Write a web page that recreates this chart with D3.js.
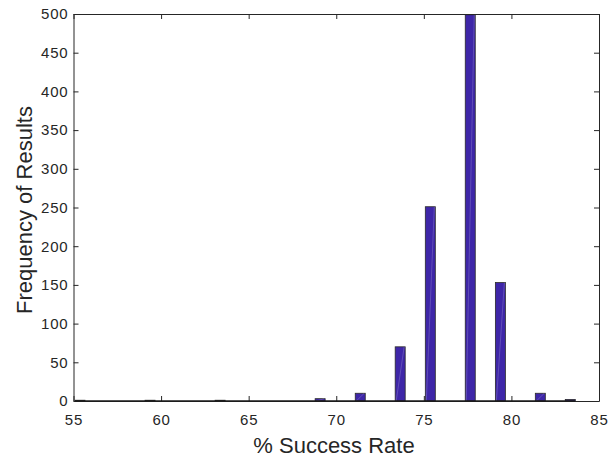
<!DOCTYPE html>
<html>
<head>
<meta charset="utf-8">
<script src="https://cdn.jsdelivr.net/npm/d3@7"></script>
<style>
  html, body { margin: 0; padding: 0; background: #fff; }
  svg { display: block; }
  text { font-family: "Liberation Sans", Arial, Helvetica, sans-serif; fill: #262626; }
</style>
</head>
<body>
<svg id="chart" width="608" height="459"></svg>
<script>
// Histogram bins (centre of each non-empty bin, % success rate) and their counts
const binCenters = [55.37, 59.37, 63.37, 69.08, 71.37, 73.65, 75.37, 77.65, 79.37, 81.65, 83.36];
const binCounts  = [1, 1, 1, 3, 10, 70, 251, 499, 153, 10, 2];
const binWidth = 0.571;

// Axis ticks
const xTicks = [55, 60, 65, 70, 75, 80, 85];
const yTicks = [0, 50, 100, 150, 200, 250, 300, 350, 400, 450, 500];

const xLabel = "% Success Rate";
const yLabel = "Frequency of Results";

const svg = d3.select("#chart");
const plot = { left: 73.5, right: 599, top: 14, bottom: 401 };

const x = d3.scaleLinear().domain([55, 85]).range([plot.left, plot.right]);
const y = d3.scaleLinear().domain([0, 500]).range([plot.bottom, plot.top]);

const axisColor = "#262626";
const tickLen = 5;

const bins = binCenters.map((c, i) => ({ x0: c - binWidth / 2, x1: c + binWidth / 2, n: binCounts[i] }));

// Bars
const barG = svg.append("g");
barG.selectAll("rect")
  .data(bins)
  .join("rect")
  .attr("x", d => x(d.x0))
  .attr("width", d => x(d.x1) - x(d.x0))
  .attr("y", d => y(d.n))
  .attr("height", d => y(0) - y(d.n))
  .attr("fill", "#3e26a8")
  .attr("stroke", "#2a2a2a")
  .attr("stroke-width", 0.8);

// faint seam across each bar face
barG.selectAll("line")
  .data(bins.filter(d => d.n >= 3))
  .join("line")
  .attr("x1", d => x(d.x0) + 1)
  .attr("y1", y(0))
  .attr("x2", d => x(d.x1) - 1)
  .attr("y2", d => y(d.n))
  .attr("stroke", "#ffffff")
  .attr("stroke-opacity", 0.3)
  .attr("stroke-width", 0.6);

// Axes: ticks point inward, mirrored on top and right (box on)
const bottomAxis = d3.axisBottom(x).tickValues(xTicks).tickSizeInner(-tickLen).tickSizeOuter(0).tickPadding(13);
const topAxis = d3.axisTop(x).tickValues(xTicks).tickSizeInner(-tickLen).tickSizeOuter(0).tickFormat("");
const leftAxis = d3.axisLeft(y).tickValues(yTicks).tickSizeInner(-tickLen).tickSizeOuter(0).tickPadding(5);
const rightAxis = d3.axisRight(y).tickValues(yTicks).tickSizeInner(-tickLen).tickSizeOuter(0).tickFormat("");

function styleAxis(g) {
  g.selectAll("path.domain").attr("stroke", axisColor).attr("stroke-width", 1);
  g.selectAll(".tick line").attr("stroke", axisColor).attr("stroke-width", 1);
  g.selectAll(".tick text")
    .attr("fill", axisColor)
    .style("font-family", '"Liberation Sans", Arial, sans-serif')
    .style("font-size", "15px")
    .style("letter-spacing", "0.8px");
}

svg.append("g").attr("transform", `translate(0,${plot.top})`).call(topAxis).call(styleAxis);
svg.append("g").attr("transform", `translate(${plot.left},0)`).call(leftAxis).call(styleAxis);
svg.append("g").attr("transform", `translate(${plot.right},0)`).call(rightAxis).call(styleAxis);
svg.append("g").attr("transform", `translate(0,${plot.bottom})`).call(bottomAxis).call(styleAxis);

// baseline of the histogram spanning all bins (empty bins sit flat on the axis)
svg.append("line")
  .attr("x1", x(bins[0].x0))
  .attr("x2", x(bins[bins.length - 1].x1))
  .attr("y1", y(0))
  .attr("y2", y(0))
  .attr("stroke", "#1a1a1a")
  .attr("stroke-width", 1.6);

// Axis titles
svg.append("text")
  .attr("x", 334)
  .attr("y", 453)
  .attr("text-anchor", "middle")
  .style("font-size", "22px")
  .text(xLabel);

svg.append("text")
  .attr("transform", `translate(32,210) rotate(-90)`)
  .attr("text-anchor", "middle")
  .style("font-size", "22px")
  .text(yLabel);
</script>
</body>
</html>
